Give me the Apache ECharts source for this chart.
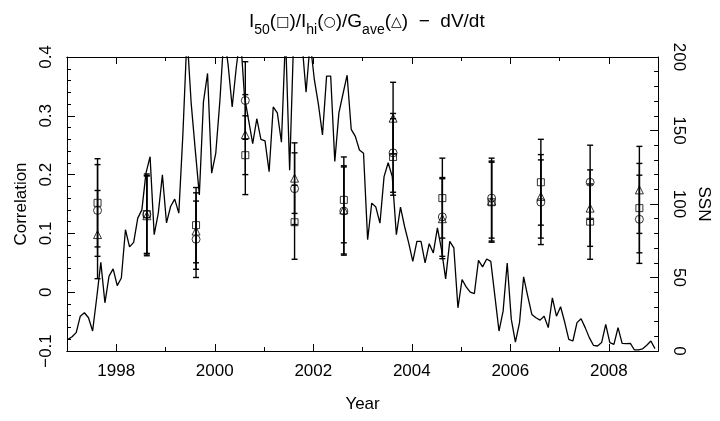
<!DOCTYPE html>
<html><head><meta charset="utf-8">
<script src="https://cdn.jsdelivr.net/npm/echarts@6/dist/echarts.min.js"></script>
<style>html,body{margin:0;padding:0;background:#fff}#c{width:720px;height:421px}</style>
</head><body><div id="c"></div>
<script>
// ---- data ----
const corrYears = [1997,1998,1999,2000,2001,2002,2003,2004,2005,2006,2007,2008];
const corrOffset = 0.62; // points drawn at mid-year
const i50    = [0.152,0.133,0.114,0.233,0.119,0.157,0.230,0.160,0.153,0.187,0.120,0.143];
const i50Err = [0.075,0.068,0.064,0.067,0.063,0.073,0.065,0.068,0.068,0.073,0.064,0.076];
const ihi    = [0.139,0.132,0.090,0.326,0.176,0.138,0.237,0.128,0.160,0.153,0.187,0.124];
const ihiErr = [0.078,0.066,0.065,0.066,0.061,0.075,0.067,0.067,0.068,0.072,0.063,0.075];
const gave   = [0.098,0.130,0.104,0.268,0.194,0.140,0.296,0.125,0.155,0.163,0.143,0.174];
const gaveErr= [0.075,0.068,0.065,0.068,0.060,0.075,0.061,0.068,0.068,0.071,0.065,0.074];

const ssnStartYear = 1997; // monthly values from Jan 1997
const ssn = [
 7.9,9.7,12.5,23.7,26,22.6,13.6,36.2,60.3,32.8,50.9,55.9,
 44.5,49.7,82.5,70.8,73.9,90.4,96,121,132.2,79.1,93.8,119.8,
 87.1,98.3,103.3,93.8,148,215,169,137,106.2,169.5,188.8,121,
 134.5,170,215,195,166,193,215,173,157,141,158,144,
 143,122,166,162,142,215,123,215,220,210,176,210,
 185,168,147,187,187,129,162,175,187.6,150.8,146,136.7,
 134.5,75.7,100.6,97.9,87,118.6,128.1,118.6,79.1,97.9,84.7,73.5,
 61,74.6,74.6,59.9,73,66.7,83.7,69,49.1,74.6,70.1,29.4,
 48.6,43.6,40,39.1,61.7,57.2,62.6,61,37.3,13.6,27.1,59.9,
 21.5,6.1,19.3,50.4,37.3,24.9,22.6,21,23.7,15.9,36.2,23.7,
 30.1,19.7,7.9,6.8,19.3,22,15.9,9.1,3.9,3.4,5.7,18.1,
 5.7,4.5,15.9,5.2,5,5.2,0.7,0.8,1.5,3.9,6.8,1.6
];
const xMajorTicks = [1998,2000,2002,2004,2006,2008];
const xMinorTicks = [1997,1999,2001,2003,2005,2007,2009];

// ---- build ----
const FONT = 'Liberation Sans';
const ssnData = ssn.map((v,i)=>[ssnStartYear + 0.02 + i/12, v]);
function pts(vals, errs){ return vals.map((v,i)=>[corrYears[i]+corrOffset, v, errs[i]]); }
const sqPts = pts(i50,i50Err), ciPts = pts(ihi,ihiErr), trPts = pts(gave,gaveErr);

function errBar(params, api){
  const x = api.value(0), y = api.value(1), e = api.value(2);
  const hi = api.coord([x, y+e]), lo = api.coord([x, y-e]);
  const w = 3;
  const st = {stroke:'#000', lineWidth:1.4};
  return {type:'group', children:[
    {type:'line', shape:{x1:hi[0],y1:hi[1],x2:lo[0],y2:lo[1]}, style:st},
    {type:'line', shape:{x1:hi[0]-w,y1:hi[1],x2:hi[0]+w,y2:hi[1]}, style:st},
    {type:'line', shape:{x1:lo[0]-w,y1:lo[1],x2:lo[0]+w,y2:lo[1]}, style:st}
  ]};
}
const axLine = {show:true, onZero:false, lineStyle:{color:'#000', width:1}};
const lab = {color:'#000', fontFamily:FONT, fontSize:17};
function xAx(pos, vals, len, showLabel){
  return {type:'value', min:1997, max:2009, position:pos,
    axisLine:axLine, splitLine:{show:false},
    axisTick:{show:true, inside:true, length:len, customValues:vals, lineStyle:{color:'#000'}},
    axisLabel: showLabel ? Object.assign({customValues:vals, margin:12, formatter:v=>String(Math.round(v))}, lab) : {show:false}
  };
}
const option = {
  animation:false,
  backgroundColor:'#fff',
  title:{
    left:244, top:2,
    text:'{b|I}{s|50}{b|(}{g|□}{b|)/I}{s|hi}{b|(}{g|○}{b|)/G}{s|ave}{b|(}{g|△}{b|)  −  dV/dt}',
    textStyle:{fontWeight:'normal', rich:{
      b:{fontFamily:FONT, fontSize:19, fontWeight:'normal', color:'#000', lineHeight:30, verticalAlign:'middle'},
      s:{fontFamily:FONT, fontSize:14, fontWeight:'normal', color:'#000', lineHeight:16, verticalAlign:'bottom'},
      g:{fontFamily:'DejaVu Sans', fontSize:14, fontWeight:'normal', color:'#000', lineHeight:30, verticalAlign:'middle'}
    }}
  },
  grid:{left:67, right:60, top:57, bottom:70, containLabel:false},
  xAxis:[
    Object.assign(xAx('bottom', xMajorTicks, 7, true), {name:'Year', nameLocation:'middle', nameGap:45, nameTextStyle:{color:'#000', fontFamily:FONT, fontSize:17}}),
    xAx('bottom', xMinorTicks, 4, false),
    xAx('top', xMajorTicks, 7, false),
    xAx('top', xMinorTicks, 4, false)
  ],
  yAxis:[
    {type:'value', min:-0.1, max:0.4, interval:0.1, position:'left',
     name:'Correlation', nameLocation:'middle', nameGap:35, nameRotate:90,
     nameTextStyle:{color:'#000', fontFamily:FONT, fontSize:17},
     axisLine:axLine, splitLine:{show:false},
     axisTick:{show:true, inside:true, length:8, lineStyle:{color:'#000'}},
     minorTick:{show:true, splitNumber:5, length:4, lineStyle:{color:'#000'}},
     axisLabel:Object.assign({rotate:90, margin:12, formatter:v=>{const r=Math.round(v*10)/10; return r===0?'0':(r<0?'−'+Math.abs(r):String(r));}}, lab)
    },
    {type:'value', min:0, max:200, interval:50, position:'right',
     name:'SSN', nameLocation:'middle', nameGap:30, nameRotate:-90,
     nameTextStyle:{color:'#000', fontFamily:FONT, fontSize:17},
     axisLine:axLine, splitLine:{show:false},
     axisTick:{show:true, inside:true, length:8, lineStyle:{color:'#000'}},
     minorTick:{show:true, splitNumber:5, length:4, lineStyle:{color:'#000'}},
     axisLabel:Object.assign({rotate:-90, margin:12}, lab)
    }
  ],
  series:[
    {type:'line', name:'SSN', xAxisIndex:0, yAxisIndex:1, data:ssnData, showSymbol:false, clip:true,
     lineStyle:{color:'#000', width:1.3}},
    {type:'custom', xAxisIndex:0, yAxisIndex:0, data:sqPts, renderItem:errBar, clip:true, encode:{x:0,y:1}},
    {type:'custom', xAxisIndex:0, yAxisIndex:0, data:ciPts, renderItem:errBar, clip:true, encode:{x:0,y:1}},
    {type:'custom', xAxisIndex:0, yAxisIndex:0, data:trPts, renderItem:errBar, clip:true, encode:{x:0,y:1}},
    {type:'scatter', xAxisIndex:0, yAxisIndex:0, data:sqPts, symbol:'rect', symbolSize:7,
     itemStyle:{color:'rgba(0,0,0,0)', borderColor:'#000', borderWidth:1}},
    {type:'scatter', xAxisIndex:0, yAxisIndex:0, data:ciPts, symbol:'circle', symbolSize:8,
     itemStyle:{color:'rgba(0,0,0,0)', borderColor:'#000', borderWidth:1}},
    {type:'scatter', xAxisIndex:0, yAxisIndex:0, data:trPts, symbol:'triangle', symbolSize:8,
     itemStyle:{color:'rgba(0,0,0,0)', borderColor:'#000', borderWidth:1}}
  ]
};
const chart = echarts.init(document.getElementById('c'), null, {renderer:'canvas'});
chart.setOption(option);
</script>
</body></html>
